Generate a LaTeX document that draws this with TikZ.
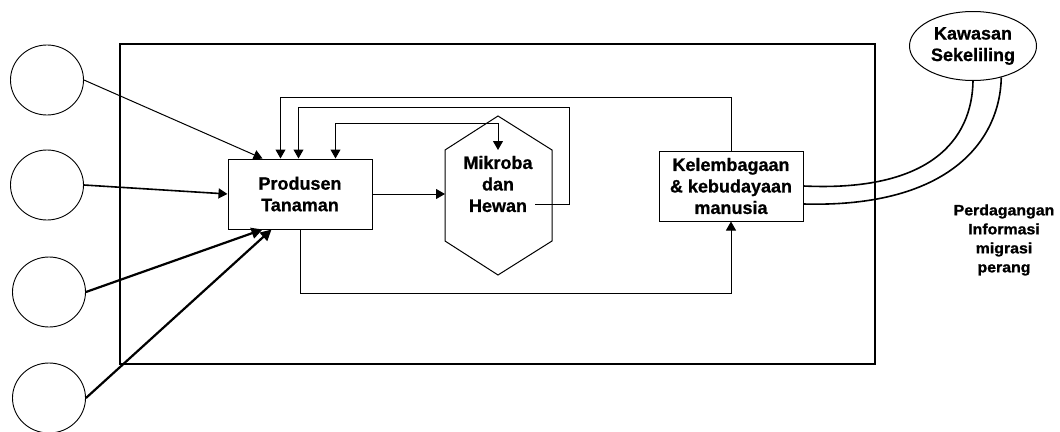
\documentclass[tikz,border=0pt]{standalone}
\usepackage{fontspec}
\setmainfont{Liberation Sans}
\newfontfamily\lblfont[UprightFont=* Bold, FakeBold=0.8]{Liberation Sans}
\newfontfamily\widefont[UprightFont=* Bold, FakeStretch=1.06, FakeBold=1.2]{Liberation Sans}
\usetikzlibrary{arrows.meta,shapes.geometric}
\begin{document}
\begin{tikzpicture}[x=1pt,y=-1pt,
  lbl/.style={font=\lblfont\fontsize{18}{21.5}\selectfont, align=center},
  box/.style={draw, line width=1pt, minimum width=144pt, minimum height=70pt, inner sep=0pt, lbl},
  src/.style={draw, ellipse, line width=0.9pt, minimum width=73pt, minimum height=70pt, inner sep=0pt},
  tip/.style={-{Triangle[length=9pt,width=10pt]}},
  arr/.style={line width=1pt, tip},
  arrm/.style={line width=1.6pt, tip},
  arrk/.style={line width=2.2pt, -{Triangle[length=11pt,width=11pt]}},
  link/.style={line width=1.6pt}
]
\useasboundingbox (0,0) rectangle (1060,431);

% outer system boundary
\node[draw, line width=1.6pt, minimum width=755pt, minimum height=320pt, inner sep=0pt] (sys) at (497.5,204) {};

% external sources
\node[src] (c1) at (47,80) {};
\node[src] (c2) at (47,185) {};
\node[src] (c3) at (49,292) {};
\node[src] (c4) at (49,398) {};

% main boxes
\node[box] (pro) at (300,194) {Produsen\\Tanaman};
\node[box] (kel) at (731,186) {Kelembagaan\\\& kebudayaan\\manusia};

% hexagon Mikroba dan Hewan
\draw[line width=1pt] (498,116) -- (552,150) -- (552,241) -- (498,275) -- (445,241) -- (445,150) -- cycle;
\node[lbl, inner sep=0pt] (mik) at (498,184) {Mikroba\\dan\\Hewan};
\coordinate (mikW) at (445,194);
\coordinate (mikin) at (498,150);
\coordinate (mikout) at (535,204);

% surrounding region
\node[draw, ellipse, line width=1pt, minimum width=127pt, minimum height=69pt, inner sep=0pt, lbl] (kaw) at (973,46) {Kawasan\\Sekeliling};

\node[font=\widefont\fontsize{15}{19}\selectfont, align=center] (trade) at (1004,240) {Perdagangan\\Informasi\\migrasi\\perang};

% inputs from sources
\draw[arr] (c1.east) -- ([xshift=35pt]pro.north west);
\draw[arrm] (c2.east) -- (pro.west);
\draw[arrk] (c3.east) -- ([xshift=35pt]pro.south west);
\draw[arrk] (c4.east) -- ([xshift=44pt]pro.south west);

% flows
\draw[arr] (pro.east) -- (mikW);
\draw[arr] (kel.north) -- ++(0,-53) -| ([xshift=53pt]pro.north west);
\draw[arr] (mikout) -- (569,204) -- (569,107) -| ([xshift=71pt]pro.north west);
\draw[line width=1pt, {Triangle[length=9pt,width=10pt]}-{Triangle[length=9pt,width=10pt]}] ([xshift=108pt]pro.north west) -- ++(0,-35) -| (mikin);
\draw[arr] ([xshift=73pt]pro.south west) -- ++(0,64) -| (kel.south);

% links to surrounding region
\draw[link] (kel.east) .. controls (930,192) and (972,140) .. (kaw.south);
\draw[link] ([yshift=-18pt]kel.east) .. controls (950,208) and (1000,140) .. (kaw.-48);
\end{tikzpicture}
\end{document}
